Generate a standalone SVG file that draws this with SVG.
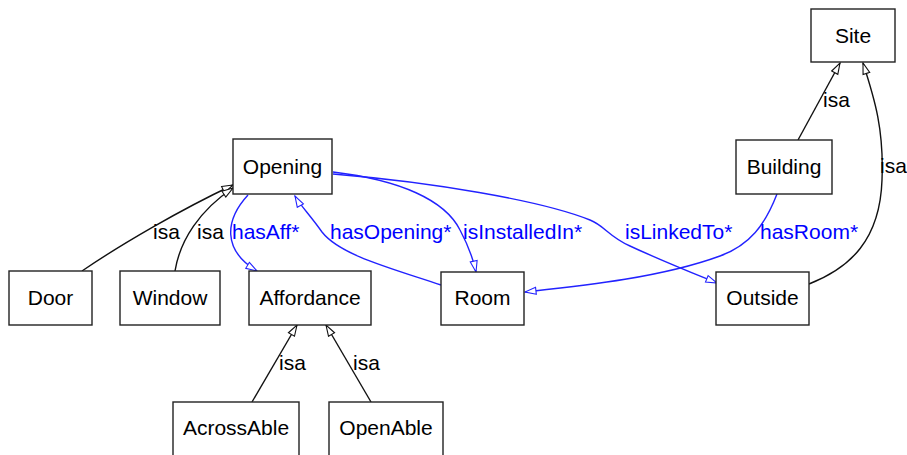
<svg xmlns="http://www.w3.org/2000/svg" width="907" height="455" viewBox="0 0 907 455">
<style>
.node rect{fill:#fff;stroke:#222;stroke-width:1.4}
text{font-family:"Liberation Sans",Arial,sans-serif;font-size:21px}
.node text{text-anchor:middle;fill:#000}
.e{fill:none;stroke-width:1.4}
.k{stroke:#111;marker-end:url(#ak)}
.b{stroke:#2222ff;marker-end:url(#ab)}
.lk{fill:#000}
.lb{fill:#0000ff}
</style>
<defs>
<marker id="ak" markerUnits="userSpaceOnUse" markerWidth="14" markerHeight="10" refX="12" refY="4.5" orient="auto"><path d="M1,1 L12,4.5 L1,8 z" fill="#fff" stroke="#111" stroke-width="1.1"/></marker>
<marker id="ab" markerUnits="userSpaceOnUse" markerWidth="14" markerHeight="10" refX="12" refY="4.5" orient="auto"><path d="M1,1 L12,4.5 L1,8 z" fill="#fff" stroke="#2222ff" stroke-width="1.1"/></marker>
</defs>
<rect width="907" height="455" fill="#fff"/>
<g id="edges">
<path class="e k" d="M82,271 C120,245 180,210 233,185"/>
<path class="e k" d="M175,271 C180,240 200,210 233,188"/>
<path class="e b" d="M248,195 C225,220 222,250 257,271"/>
<path class="e b" d="M441,285 C390,268 340,255 322,232 C310,215 300,205 295,196"/>
<path class="e b" d="M333,172 C400,180 445,200 460,230 C468,245 473,258 476,272"/>
<path class="e b" d="M333,174 C430,182 540,200 590,220 C605,226 608,236 630,246 C660,260 690,272 717,283"/>
<path class="e b" d="M777,194 C765,225 750,245 720,256 C660,278 580,286 525,292"/>
<path class="e k" d="M798,140 L840,63"/>
<path class="e k" d="M809,284 C850,268 880,240 882,180 C884,130 875,100 863,63"/>
<path class="e k" d="M252,402 L297,325"/>
<path class="e k" d="M371,402 L326,325"/>
<text class="lk" x="153" y="239">isa</text>
<text class="lk" x="197" y="239">isa</text>
<text class="lb" x="232" y="239">hasAff*</text>
<text class="lb" x="330" y="239">hasOpening*</text>
<text class="lb" x="463" y="239">isInstalledIn*</text>
<text class="lb" x="625" y="239">isLinkedTo*</text>
<text class="lb" x="760" y="239">hasRoom*</text>
<text class="lk" x="823" y="107">isa</text>
<text class="lk" x="880" y="173">isa</text>
<text class="lk" x="279" y="370">isa</text>
<text class="lk" x="353" y="370">isa</text>
</g>
<g id="Site" class="node"><rect x="811" y="9" width="84" height="53"/><text x="853" y="43">Site</text></g>
<g id="Building" class="node"><rect x="736" y="140" width="96" height="54"/><text x="784" y="174">Building</text></g>
<g id="Opening" class="node"><rect x="233" y="139" width="99" height="55"/><text x="282.5" y="174">Opening</text></g>
<g id="Door" class="node"><rect x="9" y="271" width="83" height="54"/><text x="50.5" y="305">Door</text></g>
<g id="Window" class="node"><rect x="120" y="271" width="100" height="54"/><text x="170" y="305">Window</text></g>
<g id="Affordance" class="node"><rect x="249" y="271" width="122" height="54"/><text x="310" y="305">Affordance</text></g>
<g id="Room" class="node"><rect x="441" y="272" width="83" height="53"/><text x="482.5" y="305">Room</text></g>
<g id="Outside" class="node"><rect x="716" y="272" width="93" height="53"/><text x="762.5" y="305">Outside</text></g>
<g id="AcrossAble" class="node"><rect x="173" y="402" width="126" height="56"/><text x="236" y="435">AcrossAble</text></g>
<g id="OpenAble" class="node"><rect x="329" y="402" width="114" height="56"/><text x="386" y="435">OpenAble</text></g>
</svg>
